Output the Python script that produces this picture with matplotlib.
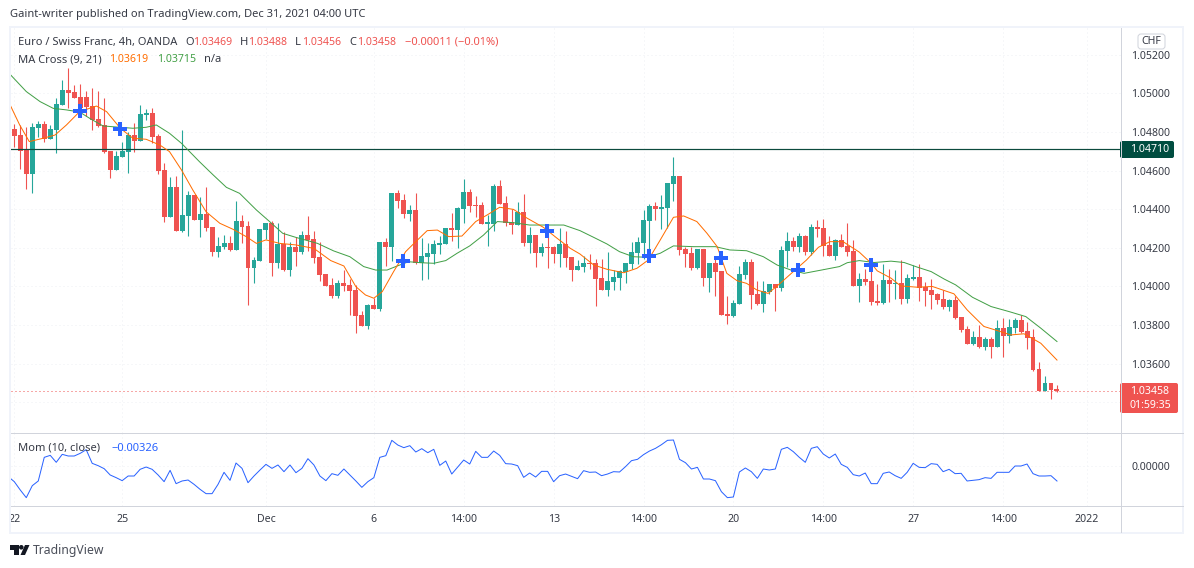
import matplotlib
matplotlib.use('Agg')
import matplotlib.pyplot as plt
from matplotlib.patches import Rectangle, Polygon, Circle, FancyBboxPatch

#candles (oldest first)
#=============================
opens = [1.04815,1.04784,1.04707,1.04582,1.04820,1.04841,1.04763,1.04810,1.04940,1.05017,
1.05007,1.04979,1.04981,1.04934,1.04867,1.04836,1.04701,1.04603,1.04670,1.04696,
1.04784,1.04753,1.04889,1.04898,1.04779,1.04603,1.04360,1.04515,1.04287,1.04365,
1.04474,1.04344,1.04375,1.04308,1.04178,1.04204,1.04225,1.04189,1.04339,1.04313,
1.04096,1.04132,1.04292,1.04329,1.04122,1.04220,1.04085,1.04204,1.04178,1.04266,
1.04246,1.04153,1.04065,1.04008,1.03951,1.04018,1.04008,1.03982,1.03852,1.03795,
1.03904,1.03883,1.04230,1.04204,1.04484,1.04448,1.04375,1.04396,1.04122,1.04153,
1.04168,1.04215,1.04220,1.04303,1.04292,1.04401,1.04489,1.04422,1.04422,1.04323,
1.04323,1.04520,1.04432,1.04334,1.04318,1.04386,1.04225,1.04266,1.04173,1.04204,
1.04204,1.04168,1.04220,1.04153,1.04085,1.04101,1.04122,1.04122,1.04044,1.03982,
1.04023,1.04044,1.04075,1.04116,1.04173,1.04225,1.04339,1.04417,1.04401,1.04406,
1.04531,1.04572,1.04194,1.04173,1.04096,1.04194,1.04044,1.04122,1.04080,1.03858,
1.03847,1.03909,1.04059,1.04127,1.03961,1.03909,1.03971,1.04013,1.03992,1.04184,
1.04235,1.04204,1.04261,1.04178,1.04308,1.04303,1.04215,1.04158,1.04241,1.04210,
1.04184,1.04002,1.04039,1.04029,1.03925,1.03915,1.04034,1.04013,1.04019,1.03936,
1.04039,1.04050,1.03998,1.03982,1.03962,1.03936,1.03894,1.03931,1.03843,1.03780,
1.03703,1.03739,1.03687,1.03729,1.03687,1.03786,1.03744,1.03786,1.03827,1.03770,
1.03739,1.03573,1.03459,1.03501,1.03469]
closes = [1.04779,1.04703,1.04582,1.04824,1.04841,1.04763,1.04815,1.04945,1.05017,1.05002,
1.04976,1.04922,1.04929,1.04862,1.04831,1.04696,1.04603,1.04675,1.04701,1.04784,
1.04753,1.04893,1.04898,1.04774,1.04598,1.04360,1.04515,1.04287,1.04370,1.04474,
1.04344,1.04375,1.04303,1.04178,1.04210,1.04225,1.04189,1.04339,1.04308,1.04096,
1.04137,1.04298,1.04329,1.04122,1.04220,1.04085,1.04204,1.04178,1.04266,1.04241,
1.04147,1.04059,1.04002,1.03951,1.04018,1.04002,1.03977,1.03847,1.03795,1.03904,
1.03883,1.04230,1.04204,1.04484,1.04443,1.04375,1.04396,1.04122,1.04158,1.04173,
1.04220,1.04225,1.04303,1.04292,1.04406,1.04489,1.04417,1.04417,1.04323,1.04334,
1.04520,1.04427,1.04329,1.04318,1.04386,1.04225,1.04266,1.04173,1.04204,1.04199,
1.04168,1.04220,1.04147,1.04085,1.04106,1.04122,1.04116,1.04039,1.03982,1.04028,
1.04049,1.04080,1.04122,1.04178,1.04230,1.04344,1.04417,1.04401,1.04411,1.04536,
1.04572,1.04189,1.04168,1.04096,1.04194,1.04044,1.04122,1.04075,1.03852,1.03847,
1.03914,1.04065,1.04127,1.03956,1.03909,1.03977,1.04013,1.03992,1.04189,1.04235,
1.04204,1.04261,1.04178,1.04308,1.04298,1.04210,1.04158,1.04241,1.04204,1.04178,
1.04002,1.04039,1.04024,1.03920,1.03915,1.04034,1.04013,1.04019,1.03936,1.04045,
1.04050,1.03993,1.03977,1.03956,1.03931,1.03894,1.03931,1.03837,1.03775,1.03703,
1.03739,1.03687,1.03729,1.03687,1.03786,1.03744,1.03791,1.03827,1.03765,1.03734,
1.03568,1.03459,1.03501,1.03465,1.03458]
highs = [1.04841,1.04836,1.04824,1.04845,1.04857,1.04857,1.04836,1.04974,1.05069,1.05131,
1.05043,1.05048,1.05012,1.05026,1.05012,1.04976,1.04701,1.04701,1.04750,1.04801,
1.04848,1.04940,1.04919,1.04924,1.04789,1.04639,1.04565,1.04572,1.04810,1.04494,
1.04474,1.04463,1.04515,1.04308,1.04258,1.04266,1.04261,1.04443,1.04370,1.04339,
1.04153,1.04298,1.04329,1.04339,1.04329,1.04282,1.04230,1.04256,1.04287,1.04365,
1.04287,1.04230,1.04065,1.04044,1.04034,1.04085,1.04039,1.04008,1.03873,1.03909,
1.03940,1.04230,1.04251,1.04484,1.04499,1.04479,1.04422,1.04484,1.04251,1.04225,
1.04241,1.04261,1.04303,1.04380,1.04411,1.04556,1.04505,1.04468,1.04437,1.04370,
1.04531,1.04551,1.04468,1.04401,1.04437,1.04479,1.04308,1.04266,1.04225,1.04318,
1.04210,1.04303,1.04287,1.04153,1.04137,1.04158,1.04168,1.04142,1.04142,1.04178,
1.04085,1.04085,1.04122,1.04230,1.04256,1.04396,1.04427,1.04437,1.04474,1.04536,
1.04670,1.04572,1.04204,1.04204,1.04194,1.04194,1.04122,1.04158,1.04080,1.03951,
1.03930,1.04106,1.04142,1.04142,1.04028,1.04028,1.04013,1.04013,1.04210,1.04282,
1.04256,1.04277,1.04266,1.04323,1.04344,1.04349,1.04261,1.04246,1.04272,1.04329,
1.04241,1.04070,1.04091,1.04107,1.04013,1.04117,1.04091,1.04086,1.04138,1.04065,
1.04112,1.04117,1.04024,1.04039,1.03967,1.03982,1.03936,1.03951,1.03843,1.03796,
1.03770,1.03801,1.03739,1.03739,1.03827,1.03837,1.03832,1.03837,1.03853,1.03817,
1.03780,1.03610,1.03537,1.03501,1.03488]
lows = [1.04724,1.04608,1.04505,1.04484,1.04776,1.04750,1.04763,1.04693,1.04940,1.04922,
1.04974,1.04883,1.04883,1.04810,1.04824,1.04693,1.04563,1.04603,1.04669,1.04589,
1.04698,1.04753,1.04862,1.04745,1.04582,1.04334,1.04360,1.04287,1.04284,1.04261,
1.04344,1.04256,1.04287,1.04158,1.04153,1.04194,1.04184,1.04189,1.04225,1.03904,
1.04018,1.04132,1.04246,1.04054,1.04096,1.04080,1.04054,1.04106,1.04168,1.04184,
1.04122,1.04028,1.04002,1.03940,1.03940,1.03977,1.03852,1.03759,1.03795,1.03780,
1.03883,1.03873,1.04106,1.04132,1.04406,1.04355,1.04339,1.04116,1.04034,1.04039,
1.04116,1.04168,1.04220,1.04235,1.04199,1.04329,1.04386,1.04360,1.04323,1.04210,
1.04287,1.04427,1.04313,1.04272,1.04318,1.04210,1.04173,1.04101,1.04158,1.04096,
1.04122,1.04101,1.04101,1.04028,1.04085,1.04075,1.04090,1.03899,1.03982,1.03951,
1.03982,1.03982,1.04018,1.04090,1.04116,1.04142,1.04178,1.04344,1.04298,1.04303,
1.04443,1.04163,1.04101,1.04085,1.04090,1.04002,1.03971,1.03951,1.03852,1.03806,
1.03842,1.03909,1.04039,1.03883,1.03904,1.03868,1.03961,1.03873,1.03977,1.04101,
1.04184,1.04178,1.04163,1.04163,1.04256,1.04158,1.04158,1.04137,1.04204,1.04158,
1.04002,1.03920,1.04008,1.03905,1.03905,1.03910,1.03920,1.03936,1.03910,1.03915,
1.04034,1.03925,1.03900,1.03884,1.03910,1.03884,1.03874,1.03832,1.03765,1.03703,
1.03698,1.03682,1.03672,1.03630,1.03687,1.03636,1.03708,1.03760,1.03760,1.03677,
1.03563,1.03459,1.03459,1.03418,1.03456]

#moving averages, read at these candle positions
#=============================
ma9_pos = [-0.7,0.9,2.5,4.8,6.8,8.7,10.9,13.7,15.4,17.7,19.8,22,24.3,25.9,27.9,29.8,32,34.3,36.5,38.7,
40.4,42,44.3,47,50,52.8,55,57,58.6,60,61.4,63.3,65.3,66.7,68.9,70.6,72.5,74.7,77,78.9,
81,83.3,85.6,88.3,90.6,92.8,94.4,96.7,98.9,101.7,103.9,105.8,107.8,110,111.7,113.9,115.6,117.3,118.9,120.6,
122.2,123.9,125.8,127.8,130,132.2,134.2,136.1,138.3,141,143,144,146.3,147.9,150.7,153.2,156.8,159,161.8,164,
166.3,168.5,171.3,174]
ma9 = [1.04940,1.04836,1.04750,1.04767,1.04784,1.04836,1.04905,1.04934,1.04905,1.04819,1.04767,1.04762,1.04732,1.04698,1.04603,1.04499,1.04387,1.04327,1.04296,1.04258,
1.04223,1.04241,1.04223,1.04215,1.04197,1.04134,1.04106,1.03999,1.03956,1.03939,1.03973,1.04077,1.04180,1.04223,1.04289,1.04292,1.04258,1.04261,1.04336,1.04370,
1.04410,1.04399,1.04353,1.04306,1.04249,1.04197,1.04168,1.04111,1.04089,1.04071,1.04094,1.04137,1.04241,1.04358,1.04365,1.04336,1.04275,1.04206,1.04068,1.04030,
1.04016,1.03982,1.03964,1.04016,1.04077,1.04137,1.04203,1.04232,1.04232,1.04178,1.04120,1.04081,1.04043,1.04003,1.03996,1.04000,1.03962,1.03879,1.03793,1.03772,
1.03749,1.03755,1.03706,1.03619]
ma21_pos = [-0.7,2,4.3,6.5,8.7,10.9,12.6,14.8,17.6,19.8,22,23.7,25.9,27.9,30.9,33.2,35.4,37.6,40.4,42.6,
44.8,47,50.6,53.3,56,58.3,60.3,62.2,63.9,65.8,67.8,70,72,73.9,76,78.3,80.6,83.3,86,88.9,
91.7,94.4,96.7,98.9,101,103.3,105.6,107.8,110,113.3,117,119.4,122.2,125,127.3,129.6,131.8,134.7,137.7,139,
141,143.5,146.3,148.5,150.7,153,155.2,157.1,159.9,163,166,168.8,171.3,174]
ma21 = [1.05098,1.05009,1.04957,1.04922,1.04914,1.04903,1.04870,1.04831,1.04824,1.04819,1.04824,1.04836,1.04793,1.04741,1.04646,1.04577,1.04513,1.04482,1.04396,1.04336,
1.04275,1.04254,1.04223,1.04184,1.04154,1.04103,1.04085,1.04085,1.04106,1.04128,1.04123,1.04120,1.04134,1.04172,1.04210,1.04266,1.04336,1.04330,1.04318,1.04318,
1.04318,1.04289,1.04254,1.04220,1.04180,1.04154,1.04151,1.04172,1.04210,1.04206,1.04206,1.04189,1.04185,1.04154,1.04111,1.04085,1.04068,1.04085,1.04103,1.04123,
1.04134,1.04124,1.04131,1.04124,1.04100,1.04077,1.04038,1.04008,1.03944,1.03896,1.03870,1.03844,1.03784,1.03715]

#MA cross markers
cross_pos = [11,17.7,64.9,88.9,105.9,118,130.8,143]
cross_price = [1.04910,1.04814,1.04132,1.04289,1.04158,1.04149,1.04085,1.04112]

#momentum, one value per candle starting at candle -1
#=============================
mom = [-0.00231,-0.00340,-0.00521,-0.00687,-0.00427,-0.00325,0.00188,0.00231,0.00080,0.00253,
0.00217,0.00217,0.00275,0.00354,0.00058,0.00007,-0.00058,-0.00195,-0.00253,-0.00318,
-0.00217,-0.00217,-0.00072,-0.00022,-0.00072,-0.00195,-0.00340,-0.00094,-0.00383,-0.00325,
-0.00304,-0.00398,-0.00506,-0.00600,-0.00600,-0.00398,-0.00137,-0.00311,0.00065,-0.00051,
-0.00362,-0.00217,-0.00087,0.00036,-0.00051,0.00022,-0.00123,0.00022,-0.00145,-0.00051,
0.00159,0.00022,-0.00217,-0.00318,-0.00166,-0.00202,-0.00065,-0.00195,-0.00325,-0.00463,
-0.00340,-0.00253,0.00188,0.00224,0.00557,0.00455,0.00398,0.00441,0.00304,0.00376,
0.00289,0.00362,0.00014,0.00108,-0.00174,-0.00022,0.00130,0.00043,0.00318,0.00188,
0.00188,0.00325,0.00231,0.00051,0.00043,0.00007,-0.00246,-0.00152,-0.00239,-0.00116,
-0.00116,-0.00340,-0.00210,-0.00174,-0.00224,-0.00275,-0.00101,-0.00137,-0.00130,-0.00210,
-0.00174,-0.00123,-0.00130,-0.00014,0.00116,0.00145,0.00246,0.00325,0.00383,0.00463,
0.00557,0.00564,0.00145,0.00072,-0.00065,-0.00029,-0.00282,-0.00282,-0.00318,-0.00557,
-0.00687,-0.00672,-0.00130,-0.00043,-0.00123,-0.00268,-0.00065,-0.00087,-0.00065,0.00362,
0.00405,0.00311,0.00188,0.00080,0.00383,0.00419,0.00260,0.00174,0.00260,0.00036,
-0.00029,-0.00188,-0.00217,-0.00152,-0.00383,-0.00383,-0.00159,-0.00130,-0.00210,-0.00268,
-0.00137,0.00058,-0.00029,-0.00036,0.00051,0.00036,-0.00123,-0.00072,-0.00166,-0.00159,
-0.00325,-0.00311,-0.00296,-0.00253,-0.00268,-0.00137,-0.00137,-0.00137,0.00000,0.00000,
0.00043,-0.00166,-0.00217,-0.00217,-0.00210,-0.00326]

#axis labels
#=============================
price_ticks = [1.034,1.036,1.038,1.040,1.042,1.044,1.046,1.048,1.050,1.052]
time_pos = [0,18,42,60,75,90,105,120,135,150,165,179]
time_labels = ['22','25','Dec','6','14:00','13','14:00','20','14:00','27','14:00','2022']
level_price = 1.04710
last_price = 1.03458

#style
#=============================
W, H = 1194, 568
UP = '#26a69a'
DOWN = '#ef5350'
TXT = '#363a45'
GRID = '#eef0f5'
SEP = '#d1d4dc'
FRAME = '#f0f3fa'
FONT = 'Noto Sans'
FS = 7.6   # numbers
FS_T = 8.0 # words in the header and legends
plt.rcParams['font.family'] = FONT

fig = plt.figure(figsize=(W/100, H/100), dpi=100, facecolor='white')

def pane(left, top, right, bottom):
    ax = fig.add_axes([left/W, 1-bottom/H, (right-left)/W, (bottom-top)/H])
    for s in ax.spines.values():
        s.set_visible(False)
    return ax

#same candle scale in both panes
xlims = (-0.55, 184.6)
px = 0.72  # one pixel in points

#price pane
#=============================
ax = pane(11, 28, 1120.5, 432.5)
ax.set_xlim(*xlims)
ax.set_ylim(1.03244, 1.05338)
ax.set_xticks(time_pos)
ax.set_xticklabels([])
ax.set_yticks(price_ticks)
ax.set_yticklabels(['%.5f' % p for p in price_ticks], fontsize=FS, color=TXT)
ax.yaxis.tick_right()
ax.tick_params(length=0, pad=7.6)
ax.grid(True, color=GRID, linestyle=(0, (1, 3)), linewidth=px)
ax.set_axisbelow(True)

n = range(len(opens))
colors = [UP if closes[i] >= opens[i] else DOWN for i in n]
ax.vlines(list(n), lows, highs, colors=colors, linewidth=px*1.1, zorder=3)
ax.bar(list(n), [abs(closes[i]-opens[i]) for i in n],
       bottom=[min(opens[i], closes[i]) for i in n],
       width=0.83, color=colors, linewidth=0, zorder=4)

ax.axhline(level_price, color='#0c4a3d', linewidth=px*1.2, zorder=5)
ax.axhline(last_price, color=DOWN, linewidth=px, linestyle=(0, (1, 3)), zorder=2)
ax.plot(ma21_pos, ma21, color='#43a047', linewidth=px, zorder=6)
ax.plot(ma9_pos, ma9, color='#ff6d00', linewidth=px, zorder=6)
ax.plot(cross_pos, cross_price, linestyle='none', marker='P', markersize=9.5,
        markerfacecolor='#2962ff', markeredgewidth=0, zorder=7)

#momentum pane
#=============================
ax2 = pane(11, 432.5, 1120.5, 505.5)
ax2.set_xlim(*xlims)
ax2.set_ylim(-0.00857, 0.00727)
ax2.set_xticks(time_pos)
ax2.set_xticklabels(time_labels, fontsize=FS, color=TXT)
ax2.set_yticks([0.0])
ax2.set_yticklabels(['0.00000'], fontsize=FS, color=TXT)
ax2.yaxis.tick_right()
ax2.tick_params(axis='y', length=0, pad=7.6)
ax2.tick_params(axis='x', length=0, pad=6)
ax2.grid(True, color=GRID, linestyle=(0, (1, 3)), linewidth=px)
ax2.set_axisbelow(True)
ax2.plot(range(-1, len(mom)-1), mom, color='#2962ff', linewidth=px, zorder=3)

#chrome drawn in pixel coordinates
#=============================
top = fig.add_axes([0, 0, 1, 1], zorder=10)
top.set_xlim(0, W)
top.set_ylim(H, 0)
top.axis('off')

top.add_patch(Rectangle((0, 506.5), 9, 26, facecolor='white', linewidth=0))
top.add_patch(Rectangle((10, 27), 1173, 506, fill=False, edgecolor=FRAME, linewidth=2*px))
top.plot([11, 1183], [432.5, 432.5], color=SEP, linewidth=px)
top.plot([11, 1183], [505.5, 505.5], color=SEP, linewidth=px)
top.plot([1120.5, 1120.5], [28, 532], color=SEP, linewidth=px)

#price tags
top.add_patch(FancyBboxPatch((1138, 34), 27, 15, boxstyle='round,pad=0,rounding_size=3',
                             facecolor='white', edgecolor=SEP, linewidth=px))
top.text(1151.5, 41.5, 'CHF', ha='center', va='center', fontsize=FS, color=TXT)
top.add_patch(FancyBboxPatch((1120, 141), 54, 17, boxstyle='round,pad=0,rounding_size=2',
                             facecolor='#004d40', linewidth=0))
top.text(1150, 149.5, '1.04710', ha='center', va='center', fontsize=FS, color='white', fontweight='bold')
top.add_patch(FancyBboxPatch((1120, 383), 58, 30, boxstyle='round,pad=0,rounding_size=2',
                             facecolor=DOWN, linewidth=0))
top.text(1150, 391.5, '1.03458', ha='center', va='center', fontsize=FS, color='white', fontweight='bold')
top.text(1150, 405, '01:59:35', ha='center', va='center', fontsize=FS, color='white')

#header and legends
def label(x, y, s, color=TXT, size=FS):
    top.text(x, y, s, ha='left', va='center', fontsize=size, color=color)

label(10, 15, 'Gaint-writer published on TradingView.com, Dec 31, 2021 04:00 UTC', size=FS_T)
label(18, 42.5, 'Euro / Swiss Franc, 4h, OANDA', size=FS_T)
label(185, 42.5, 'O', size=FS_T)
label(193, 42.5, '1.03469', DOWN)
label(240, 42.5, 'H', size=FS_T)
label(248, 42.5, '1.03488', DOWN)
label(295, 42.5, 'L', size=FS_T)
label(302, 42.5, '1.03456', DOWN)
label(349, 42.5, 'C', size=FS_T)
label(357, 42.5, '1.03458', DOWN)
label(405, 42.5, '\u22120.00011 (\u22120.01%)', DOWN, FS_T)
label(18, 59.5, 'MA Cross (9, 21)', size=FS_T)
label(109, 59.5, '1.03619', '#ff6d00')
label(157, 59.5, '1.03715', '#43a047')
label(204, 59.5, 'n/a', size=FS_T)
label(18, 448.5, 'Mom (10, close)', size=FS_T)
label(111, 448.5, '\u22120.00326', '#2962ff', FS_T)

#TradingView logo
top.add_patch(Polygon([(10, 545), (18.5, 545), (18.5, 555), (14, 555), (14, 549.5), (10, 549.5)],
                      facecolor='#131722', linewidth=0))
top.add_patch(Circle((21.3, 547.3), 2.3, facecolor='#131722', linewidth=0))
top.add_patch(Polygon([(25, 545), (29.5, 545), (25, 555), (20.5, 555)], facecolor='#131722', linewidth=0))
top.text(33, 550.5, 'TradingView', ha='left', va='center', fontsize=8.8, color='#4a4e59')

fig.savefig('out.png', dpi=100)
